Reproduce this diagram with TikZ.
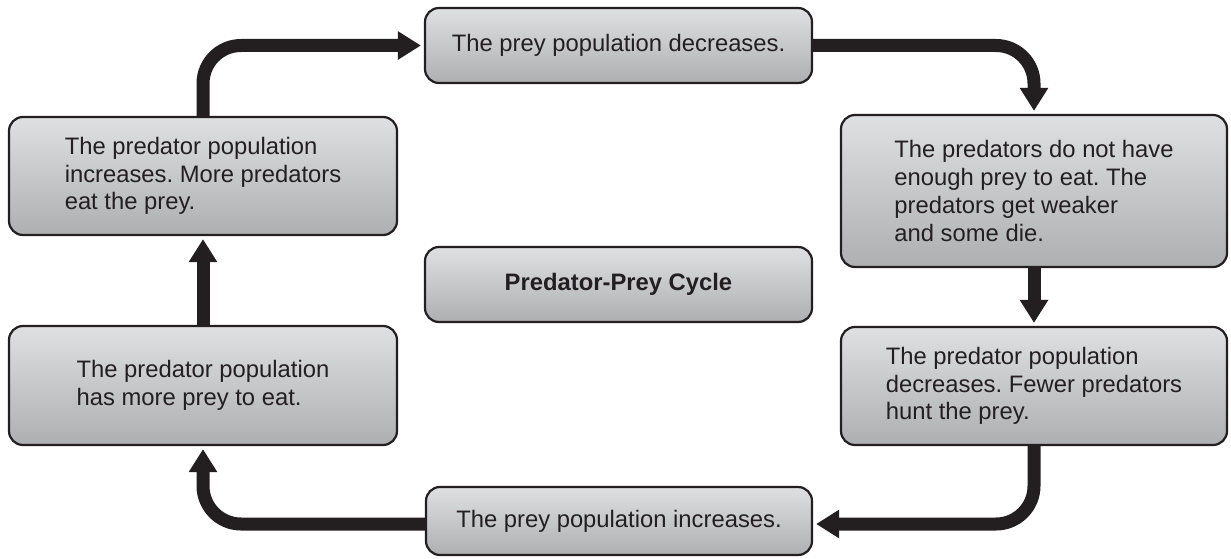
\documentclass[tikz,border=0pt]{standalone}
\usepackage{fontspec}
\setmainfont{Liberation Sans}
\usetikzlibrary{arrows.meta}
\definecolor{ink}{HTML}{231F20}
\definecolor{boxtop}{HTML}{DFE0E1}
\definecolor{boxbot}{HTML}{AEAFB1}

\begin{document}
\frenchspacing
\begin{tikzpicture}[x=1pt,y=1pt,
    stage/.style={draw=ink, line width=2.2pt, rounded corners=14pt,
      top color=boxtop, bottom color=boxbot, text=ink, align=left,
      inner sep=0pt, font=\fontsize{23.8}{27.7}\selectfont},
    flow/.style={draw=ink, line width=13pt, rounded corners=38pt,
      -{Triangle[length=23pt,width=27pt]}, shorten >=3pt}]
    \useasboundingbox (0,0) rectangle (1231,-559);
    \node [stage, minimum width=387, minimum height=75] (dec) at (618.5,-45.5) {The prey population decreases.};
    \node [stage, minimum width=386, minimum height=152] (weak) at (1034,-191) {The predators do not have\\enough prey to eat. The\\predators get weaker\\and some die.};
    \node [stage, minimum width=386, minimum height=118] (fewer) at (1034,-386) {The predator population\\decreases. Fewer predators\\hunt the prey.};
    \node [stage, minimum width=386, minimum height=68] (inc) at (619,-521) {The prey population increases.};
    \node [stage, minimum width=388, minimum height=119] (more) at (203,-385.5) {The predator population\\has more prey to eat.};
    \node [stage, minimum width=388, minimum height=118] (grow) at (203,-176) {The predator population\\increases. More predators\\eat the prey.};
    \node [stage, minimum width=387, minimum height=75, font=\fontsize{23.8}{27.7}\selectfont\bfseries] (title) at (618.5,-284.5) {Predator-Prey Cycle};
    \draw [flow] (grow.north) |- (dec.west);
    \draw [flow] (dec.east) -| (weak.north);
    \draw [flow] (weak.south) -- (fewer.north);
    \draw [flow] (fewer.south) |- ([yshift=-3pt]inc.east);
    \draw [flow] ([yshift=-3pt]inc.west) -| (more.south);
    \draw [flow] (more.north) -- (grow.south);
\end{tikzpicture}
\end{document}
